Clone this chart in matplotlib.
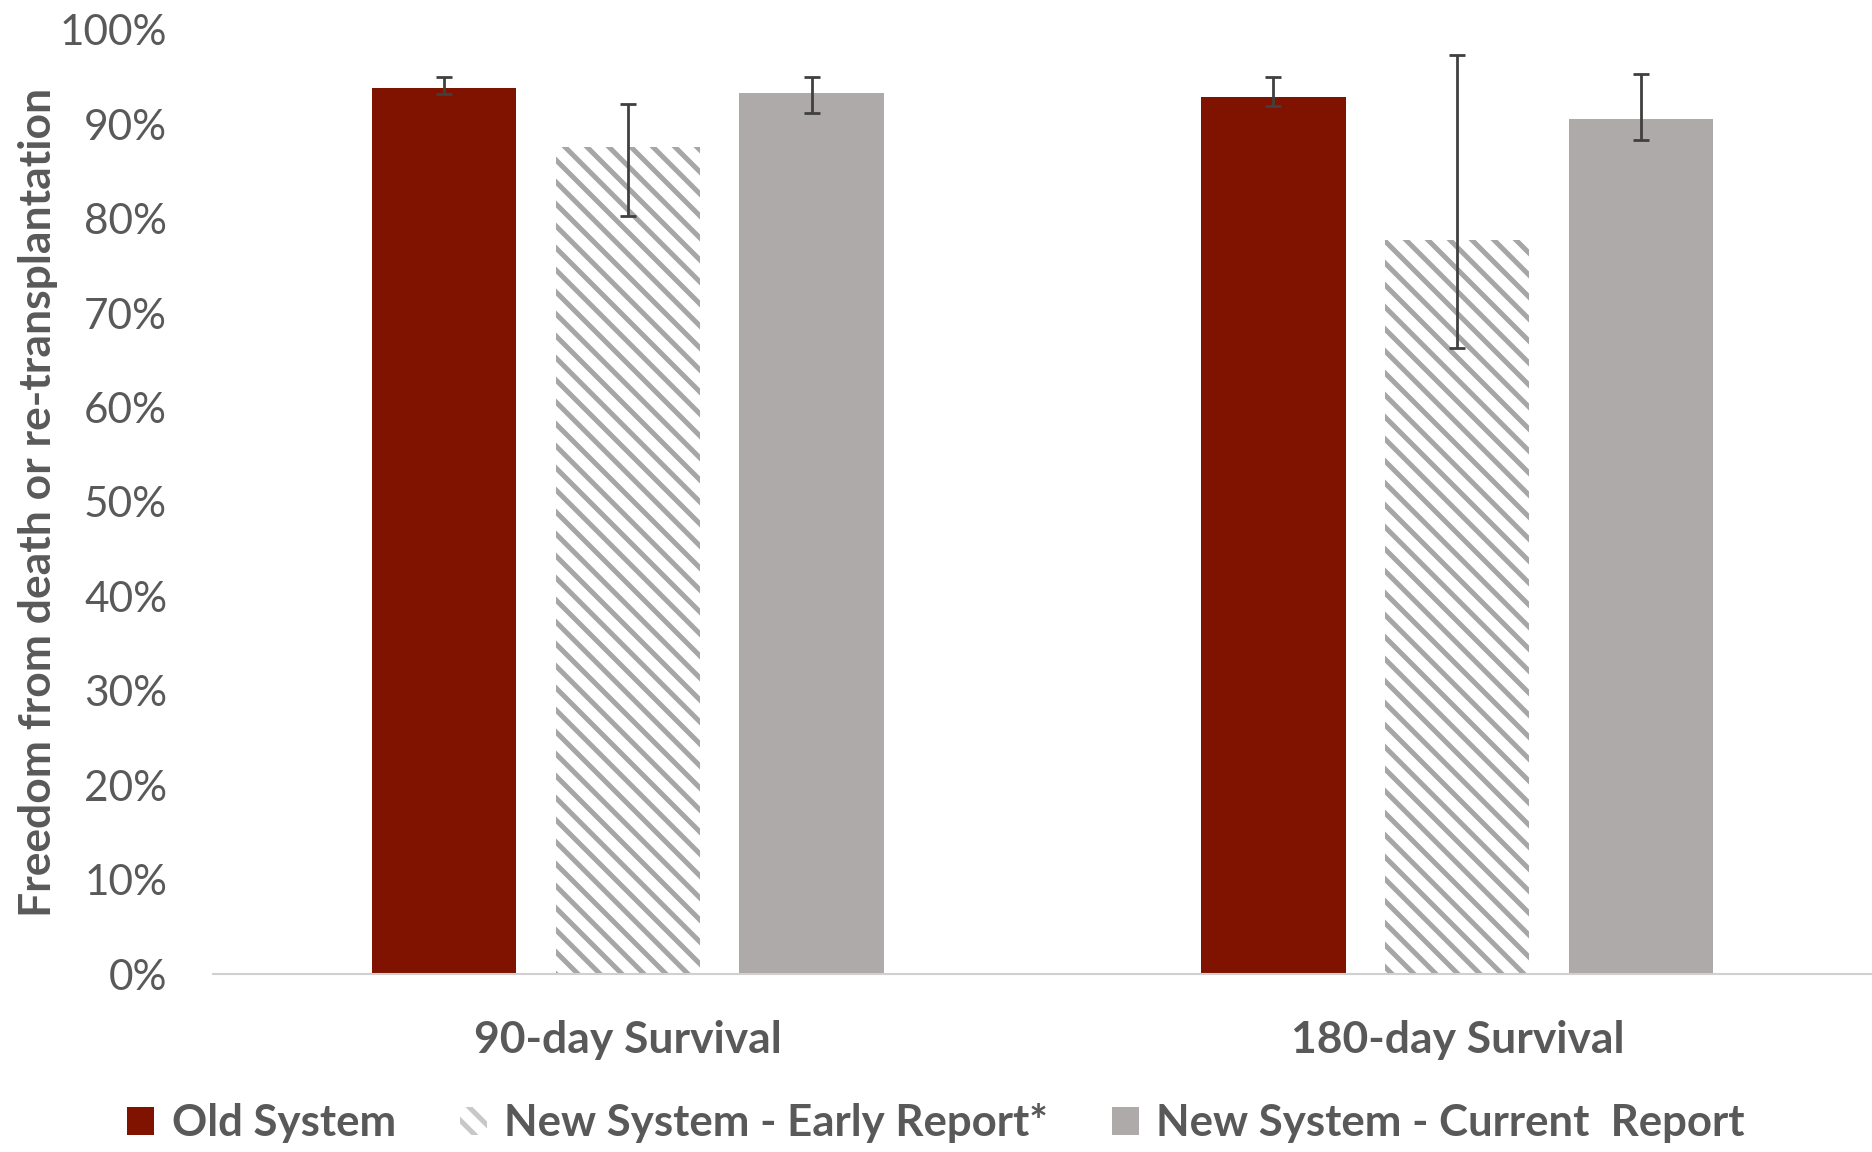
import matplotlib
matplotlib.use("Agg")
import matplotlib.pyplot as plt
import matplotlib.patches as mpatches
import numpy as np

# values
categories = ["90-day Survival", "180-day Survival"]
series_names = ["Old System", "New System - Early Report*", "New System - Current  Report"]
old_system = [0.939, 0.929]
early_report = [0.876, 0.778]
current_report = [0.933, 0.906]
# error bars (lower, upper)
old_err = [[0.007, 0.010], [0.011, 0.021]]
early_err = [[0.073, 0.115], [0.046, 0.195]]
current_err = [[0.021, 0.023], [0.017, 0.047]]

# dpi 132 so the hatch stripes get the spacing of the original
DPI = 132
def pt(v):
    # sizes below are tuned for 100 dpi
    return v * 100 / DPI

plt.rcParams['font.family'] = ['Lato', 'DejaVu Sans']
plt.rcParams['hatch.linewidth'] = pt(3.6)

dark_red = '#7f1300'
grey = '#aeaaaa'
text_col = '#595959'

fig = plt.figure(figsize=(1872 / DPI, 1152 / DPI), dpi=DPI)
ax = fig.add_axes([0.1138, 0.1545, 0.8862, 0.8195])

x = np.arange(len(categories))
w = 0.174
off = 0.2216
err_kw = dict(ecolor='#404040', elinewidth=pt(2), capsize=pt(6), capthick=pt(2))

ax.bar(x - off, old_system, w, color=dark_red, yerr=old_err, error_kw=err_kw)
ax.bar(x, early_report, w, color='white', edgecolor='#a6a6a6', hatch='\\\\',
       linewidth=0, yerr=early_err, error_kw=err_kw)
ax.bar(x + off, current_report, w, color=grey, yerr=current_err, error_kw=err_kw)

ax.set_xlim(-0.5, 1.5)
ax.set_ylim(0, 1.0)
ticks = np.arange(0, 1.01, 0.1)
ax.set_yticks(ticks)
ax.set_yticklabels([f"{int(round(v * 100))}%" for v in ticks],
                   fontsize=pt(30.5), color=text_col)
ax.set_xticks(x)
ax.set_xticklabels(categories, fontsize=pt(32), fontweight='bold', color=text_col)
ax.tick_params(axis='y', length=0, pad=pt(33))
ax.tick_params(axis='x', length=0, pad=pt(33))

for s in ['top', 'right', 'left']:
    ax.spines[s].set_visible(False)
ax.spines['bottom'].set_color('#d0d0d0')
ax.spines['bottom'].set_linewidth(pt(1.5))

ax.set_ylabel("Freedom from death or re-transplantation", fontsize=pt(32),
              fontweight='bold', color=text_col, labelpad=pt(1))

handles = [
    mpatches.Patch(facecolor=dark_red, label=series_names[0]),
    mpatches.Patch(facecolor='white', edgecolor='#c8c8c8', hatch='\\\\', linewidth=0,
                   label=series_names[1]),
    mpatches.Patch(facecolor=grey, label=series_names[2]),
]
leg = fig.legend(handles=handles, loc='center', bbox_to_anchor=(0.5, 0.025), ncol=3,
                 frameon=False, fontsize=pt(31.5), handlelength=0.62, handleheight=0.62,
                 handletextpad=0.4, columnspacing=1.45)
for t in leg.get_texts():
    t.set_color(text_col)
    t.set_fontweight('bold')

fig.savefig("out.png", dpi=DPI)
